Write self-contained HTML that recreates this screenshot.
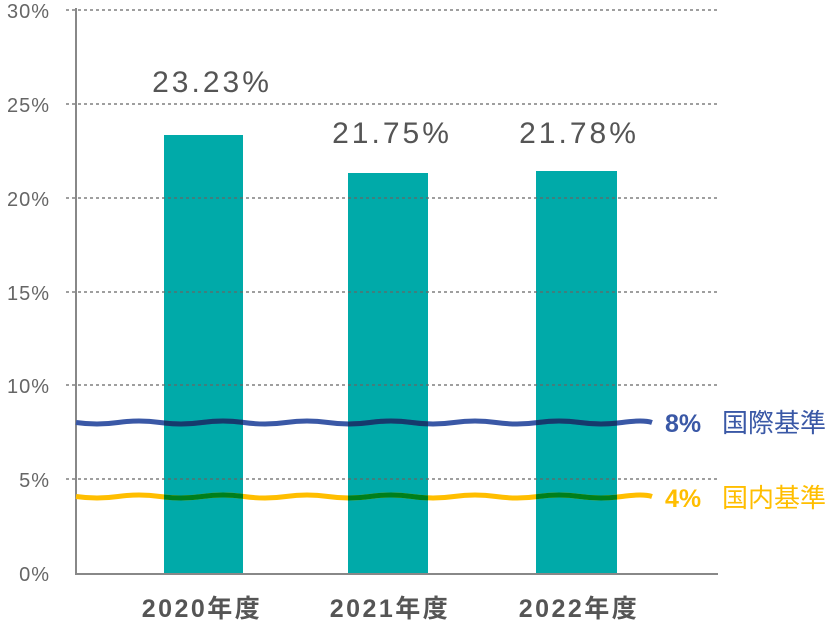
<!DOCTYPE html>
<html><head><meta charset="utf-8"><style>body{margin:0;background:#fff}</style></head><body>
<svg width="835" height="633" xmlns="http://www.w3.org/2000/svg" font-family="Liberation Sans, Noto Sans CJK JP, sans-serif">
<defs>
<clipPath id="bars"><rect x="164" y="0" width="79" height="633"/><rect x="348" y="0" width="80" height="633"/><rect x="536" y="0" width="81" height="633"/></clipPath>
</defs>
<g fill="#00aaa9">
<rect x="164" y="135" width="79" height="438"/>
<rect x="348" y="173" width="80" height="400"/>
<rect x="536" y="171" width="81" height="402"/>
</g>
<g stroke="#666" stroke-width="1.3" stroke-dasharray="3,3">
<line x1="66" y1="10" x2="718" y2="10"/><line x1="66" y1="104" x2="718" y2="104"/><line x1="66" y1="198" x2="718" y2="198"/><line x1="66" y1="292" x2="718" y2="292"/><line x1="66" y1="385" x2="718" y2="385"/><line x1="66" y1="479" x2="718" y2="479"/>
</g>
<line x1="76" y1="8" x2="76" y2="574" stroke="#888" stroke-width="2"/>
<line x1="75" y1="574" x2="718" y2="574" stroke="#888" stroke-width="2"/>
<g fill="#666" font-size="20" text-anchor="end" letter-spacing="1">
<text x="50" y="18">30%</text><text x="50" y="112">25%</text><text x="50" y="206">20%</text><text x="50" y="300">15%</text><text x="50" y="393">10%</text><text x="50" y="487">5%</text><text x="50" y="581">0%</text>
</g>
<g fill="none" stroke-width="5">
<path d="M76 422.5 q21 3 42 0 t42 0 t42 0 t42 0 t42 0 t42 0 t42 0 t42 0 t42 0 t42 0 t42 0 t42 0 t42 0 t30 0" stroke="#3a58a6"/>
<path d="M76 496.5 q21 3 42 0 t42 0 t42 0 t42 0 t42 0 t42 0 t42 0 t42 0 t42 0 t42 0 t42 0 t42 0 t42 0 t30 0" stroke="#ffbe00"/>
</g>
<g clip-path="url(#bars)" fill="none" stroke-width="5">
<path d="M76 422.5 q21 3 42 0 t42 0 t42 0 t42 0 t42 0 t42 0 t42 0 t42 0 t42 0 t42 0 t42 0 t42 0 t42 0 t30 0" stroke="#153a6c"/>
<path d="M76 496.5 q21 3 42 0 t42 0 t42 0 t42 0 t42 0 t42 0 t42 0 t42 0 t42 0 t42 0 t42 0 t42 0 t42 0 t30 0" stroke="#007f1c"/>
</g>
<g font-size="25" font-weight="bold">
<text x="665" y="432" fill="#3a58a6">8%</text><text x="722" y="432" fill="#3a58a6" font-weight="normal" font-size="26">国際基準</text>
<text x="665" y="507" fill="#ffbe00">4%</text><text x="722" y="507" fill="#ffbe00" font-weight="normal" font-size="26">国内基準</text>
</g>
<g fill="#555" font-size="30" text-anchor="middle" letter-spacing="3">
<text x="212" y="92">23.23%</text><text x="392" y="143">21.75%</text><text x="579" y="143">21.78%</text>
</g>
<g fill="#555" font-size="25" font-weight="bold" text-anchor="middle" letter-spacing="2.5">
<text x="202" y="617">2020年度</text><text x="390" y="617">2021年度</text><text x="579" y="617">2022年度</text>
</g>
</svg>
</body></html>
